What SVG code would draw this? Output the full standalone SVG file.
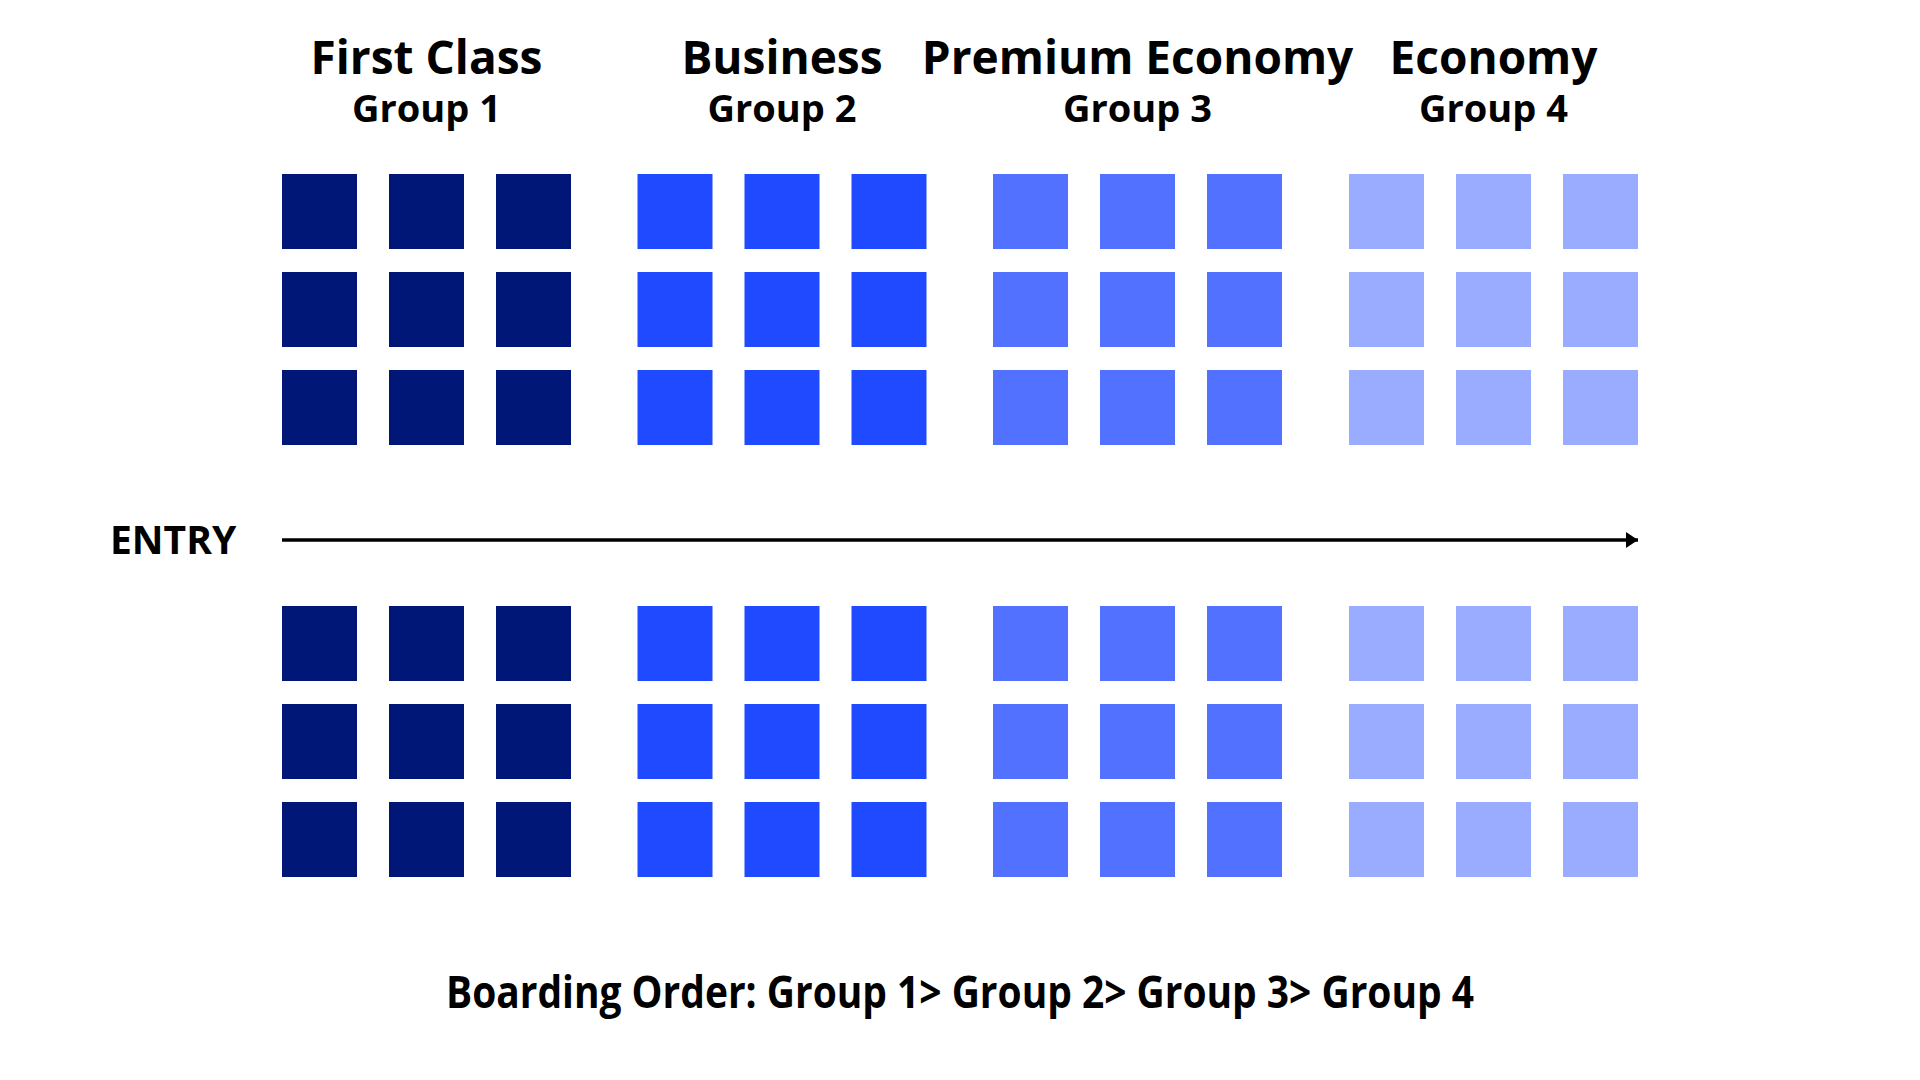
<svg xmlns="http://www.w3.org/2000/svg" width="1920" height="1080" viewBox="0 0 1920 1080">
<defs>
<style>
.t{font-family:"Open Sans","Noto Sans","Liberation Sans",sans-serif;font-weight:700;fill:#000;text-anchor:middle}
.h{font-size:46px}
.g{font-size:38px}
.s1{fill:#001777}
.s2{fill:#1F4AFF}
.s3{fill:#5271FF}
.s4{fill:#99ACFF}
</style>
<marker id="ah" markerWidth="12" markerHeight="16" refX="12" refY="8" orient="auto" markerUnits="userSpaceOnUse">
<path d="M0,0 L12,8 L0,16 Z" fill="#000"/>
</marker>
<g id="block">
<rect x="0" y="0" width="75" height="75"/>
<rect x="107" y="0" width="75" height="75"/>
<rect x="214" y="0" width="75" height="75"/>
<rect x="0" y="98" width="75" height="75"/>
<rect x="107" y="98" width="75" height="75"/>
<rect x="214" y="98" width="75" height="75"/>
<rect x="0" y="196" width="75" height="75"/>
<rect x="107" y="196" width="75" height="75"/>
<rect x="214" y="196" width="75" height="75"/>
</g>
</defs>
<rect width="1920" height="1080" fill="#fff"/>
<g id="first-class">
<text class="t h" x="426.5" y="74">First Class</text>
<text class="t g" x="426.5" y="122">Group 1</text>
<use href="#block" class="s1" x="282" y="174"/>
<use href="#block" class="s1" x="282" y="606"/>
</g>
<g id="business">
<text class="t h" x="782" y="74">Business</text>
<text class="t g" x="782" y="122">Group 2</text>
<use href="#block" class="s2" x="637.5" y="174"/>
<use href="#block" class="s2" x="637.5" y="606"/>
</g>
<g id="premium-economy">
<text class="t h" x="1137.5" y="74">Premium Economy</text>
<text class="t g" x="1137.5" y="122">Group 3</text>
<use href="#block" class="s3" x="993" y="174"/>
<use href="#block" class="s3" x="993" y="606"/>
</g>
<g id="economy">
<text class="t h" x="1493.5" y="74">Economy</text>
<text class="t g" x="1493.5" y="122">Group 4</text>
<use href="#block" class="s4" x="1349" y="174"/>
<use href="#block" class="s4" x="1349" y="606"/>
</g>
<g id="entry">
<text class="t" style="font-size:39px;text-anchor:start" x="110" y="554">ENTRY</text>
</g>
<g id="connectors">
<line x1="282" y1="540" x2="1638" y2="540" stroke="#000" stroke-width="3.5" marker-end="url(#ah)"/>
</g>
<g id="footer">
<text class="t" style="font-size:45px;text-anchor:start" x="446" y="1008" textLength="1028" lengthAdjust="spacingAndGlyphs">Boarding Order: Group 1&gt; Group 2&gt; Group 3&gt; Group 4</text>
</g>
</svg>
